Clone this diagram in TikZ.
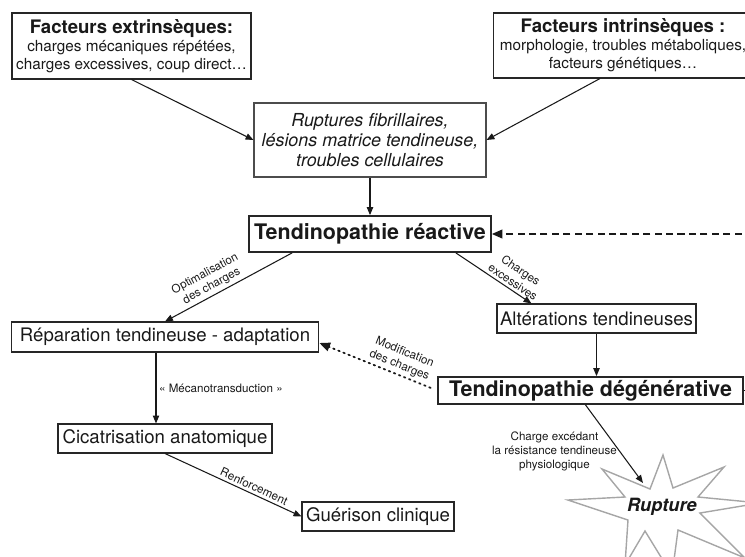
\documentclass[tikz,border=0pt]{standalone}
\usepackage{fontspec}
\setmainfont{TeX Gyre Heros}
\usetikzlibrary{arrows.meta}

\begin{document}
\begin{tikzpicture}[
        x=0.02cm, y=-0.02cm,
        % --- STYLE CHUNG ---
        box/.style={
            rectangle,
            draw=black!85,
            line width=0.6pt,
            inner sep=0pt,
            align=center,
            text=black!90
        },
        % Nút chính (chữ đậm, viền dày)
        bigbox/.style={
            box,
            line width=1pt,
            font=\fontsize{12.2}{14}\selectfont\bfseries
        },
        % Nút thường
        simplebox/.style={
            box,
            font=\fontsize{10.6}{12}\selectfont
        },
        % Mũi tên
        conn/.style={
            -{Triangle[length=4.5pt,width=3.6pt]},
            line width=0.6pt,
            black!90
        },
        dotconn/.style={
            -{Triangle[length=6pt,width=5pt]},
            line width=1pt,
            dash pattern=on 0.9pt off 2.2pt,
            line cap=round,
            black!90
        },
        dashconn/.style={
            -{Triangle[length=6pt,width=5pt]},
            line width=0.9pt,
            dash pattern=on 4pt off 2.5pt,
            black!90
        },
        % Nhãn trên mũi tên
        lbl/.style={
            font=\fontsize{6.6}{8}\selectfont,
            align=center,
            inner sep=1.5pt,
            text=black!90
        }
    ]
        \useasboundingbox (0,0) rectangle (745,556);

        % --- HỘP YẾU TỐ ---
        \node[box, minimum width=4.78cm, minimum height=1.32cm,
              font=\fontsize{8.7}{10.2}\selectfont] (extr) at (131.5,46)
            {{\fontsize{10.6}{10.2}\selectfont\bfseries Facteurs extrinsèques:}\\charges mécaniques répétées,\\charges excessives, coup direct…};
        \node[box, minimum width=5.2cm, minimum height=1.3cm,
              font=\fontsize{8.7}{10.2}\selectfont] (intr) at (623,45.5)
            {{\fontsize{10.6}{10.2}\selectfont\bfseries Facteurs intrinsèques :}\\morphologie, troubles métaboliques,\\facteurs génétiques…};
        \node[box, draw=black!70, minimum width=4.64cm, minimum height=1.48cm,
              font=\fontsize{10.2}{11.5}\selectfont\itshape] (lesions) at (370,140)
            {Ruptures fibrillaires,\\lésions matrice tendineuse,\\troubles cellulaires};

        % --- CÁC GIAI ĐOẠN ---
        \node[bigbox, minimum width=4.84cm, minimum height=0.72cm] (reactive) at (370,234) {Tendinopathie réactive};
        \node[simplebox, minimum width=6.16cm, minimum height=0.6cm] (reparation) at (165,337) {Réparation tendineuse - adaptation};
        \node[simplebox, minimum width=3.98cm, minimum height=0.58cm] (alterations) at (596.5,318.5) {Altérations tendineuses};
        \node[bigbox, minimum width=6.1cm, minimum height=0.54cm] (degen) at (590.5,390.5) {Tendinopathie dégénérative};
        \node[simplebox, minimum width=4.28cm, minimum height=0.58cm] (cicatrisation) at (165,438.5) {Cicatrisation anatomique};
        \node[simplebox, minimum width=3.04cm, minimum height=0.58cm] (guerison) at (378,516.5) {Guérison clinique};

        % --- NGÔI SAO "Rupture" ---
        \draw[gray!70, line width=0.8pt, fill=white]
            (663,455) -- (673,488) -- (724,467) -- (698,497) -- (760,503)
            -- (700,513) -- (745,558) -- (678,530) -- (672,575) -- (645,531)
            -- (625,565) -- (628,520) -- (568,500) -- (625,497) -- (602,469)
            -- (650,489) -- cycle;
        \node[font=\fontsize{10.4}{12}\selectfont\bfseries\itshape, text=black!90] (rupture) at (662,507) {Rupture};
        \coordinate (ruptip) at (643,483);

        % --- MŨI TÊN ---
        \draw[conn] (extr.south) -- (lesions.west);
        \draw[conn] ([xshift=-0.46cm]intr.south) -- (lesions.east);
        \draw[conn] (lesions) -- (reactive);
        \draw[conn] ([xshift=0.88cm]reactive.south west) -- node[lbl, sloped, above, pos=0.6] {Optimalisation\\des charges} (reparation.north);
        \draw[conn] ([xshift=-0.72cm]reactive.south east) -- node[lbl, sloped, above, pos=0.7] {Charges\\excessives} ([xshift=0.7cm]alterations.north west);
        \draw[conn] (alterations.south) -- (alterations.south |- degen.north);
        \draw[dotconn, shorten <=4pt] (degen.west) -- node[lbl, sloped, above, pos=0.35] {Modification\\des charges} ([yshift=-0.12cm]reparation.east);
        \draw[conn] ([xshift=-0.18cm]reparation.south) -- node[lbl, right] {« Mécanotransduction »} ([xshift=-0.18cm]cicatrisation.north);
        \draw[conn] (cicatrisation.south) -- node[lbl, sloped, above, pos=0.63] {Renforcement} (guerison.west);
        \draw[conn] ([xshift=-0.1cm]degen.south) -- node[lbl, left, pos=0.6] {Charge excédant\\la résistance tendineuse\\physiologique} (ruptip);
        \draw[dashconn] (degen.east) -- ++(12,0) |- (reactive.east);

    \end{tikzpicture}
\end{document}
